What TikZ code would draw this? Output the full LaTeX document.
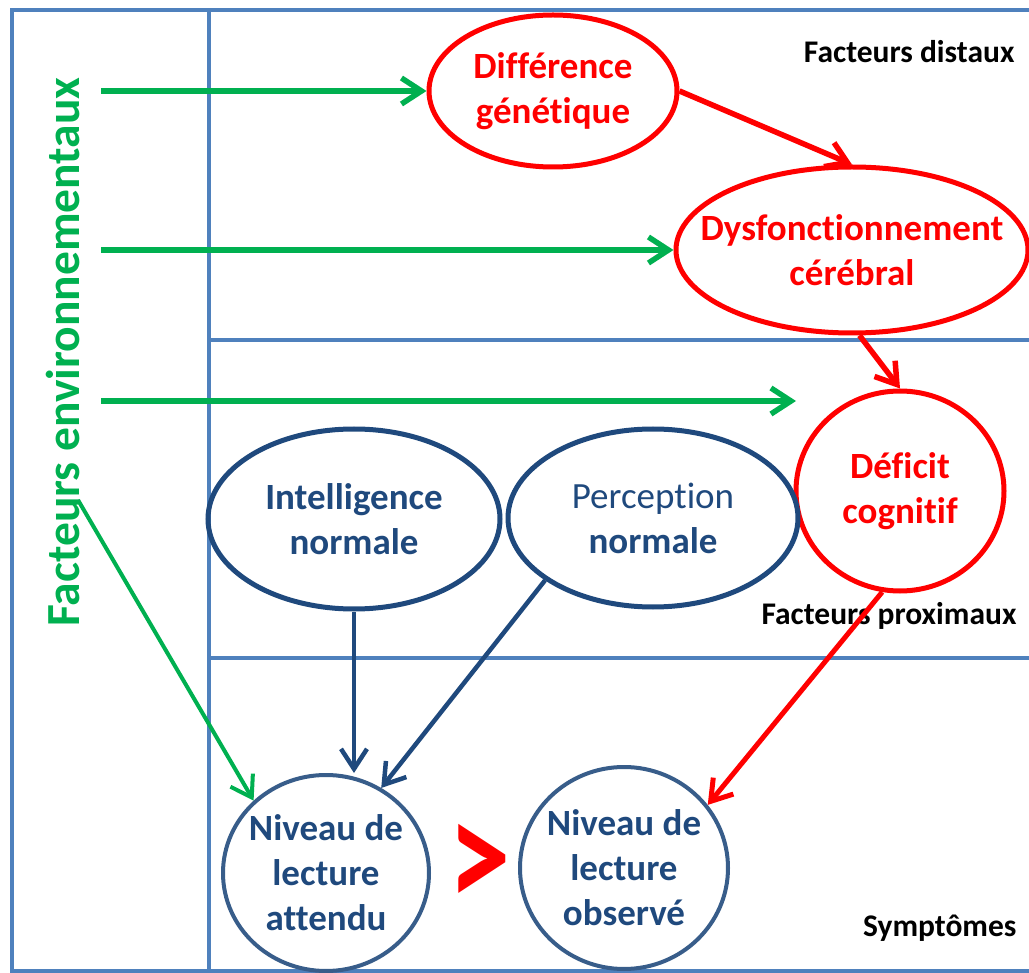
\documentclass[tikz,border=0pt]{standalone}
\usepackage{fontspec}
\setmainfont{Carlito}[Ligatures=NoCommon]
\usepackage{tikz}
\usetikzlibrary{shapes.geometric}
\usetikzlibrary{arrows.meta}

\definecolor{frameblue}{HTML}{4F81BD}
\definecolor{darkblue}{HTML}{1F497D}
\definecolor{midblue}{HTML}{385D8A}
\definecolor{envgreen}{HTML}{00B050}

\tikzset{
  frame/.style={draw=frameblue,line width=4pt},
  redell/.style={ellipse,draw=red,line width=5pt,inner sep=0pt},
  blueell/.style={ellipse,draw=darkblue,line width=5pt,inner sep=0pt},
  lectell/.style={ellipse,draw=midblue,line width=4pt,inner sep=0pt},
  redtxt/.style={text=red,font=\bfseries\fontsize{37}{45}\selectfont,align=center},
  bluetxt/.style={text=darkblue,font=\bfseries\fontsize{37}{45}\selectfont,align=center},
  zonetxt/.style={font=\bfseries\fontsize{31.5}{36}\selectfont,anchor=east},
  barb/.style={-{Straight Barb[length=20pt,width=26pt]}}
}

\begin{document}
\begin{tikzpicture}[x=1pt, y=-1pt]
        \useasboundingbox (0,0) rectangle (1029,973);

        % Frame
        \draw[frame] (12,10) rectangle (1060,971);
        \draw[frame] (209,10) -- (209,971);
        \draw[frame] (209,340) -- (1060,340);
        \draw[frame] (209,658) -- (1060,658);

        % Zones
        \draw (1018,52)  node(distal) [zonetxt] {Facteurs distaux};
        \draw (1020,616) node(proximal) [zonetxt] {Facteurs proximaux};
        \draw (1020,928) node(sympt) [zonetxt] {Symptômes};
        \draw (63,352) node(envtxt) [rotate=90,text=envgreen,font=\bfseries\fontsize{47.5}{50}\selectfont] {Facteurs environnementaux};

        % Nodes
        \draw (553,91)  node(diff) [redell,minimum width=248pt,minimum height=152pt,label={[redtxt]center:{Différence\\génétique}}] {};
        \draw (852,250) node(dysf) [redell,minimum width=352pt,minimum height=166pt,label={[redtxt]center:{Dysfonctionnement\\cérébral}}] {};
        \draw (900,491) node(deficit) [redell,minimum width=208pt,minimum height=200pt,label={[redtxt]center:{Déficit\\cognitif}}] {};
        \draw (354,519) node(intel) [blueell,minimum width=292pt,minimum height=180pt,label={[bluetxt]center:{Intelligence\\normale}}] {};
        \draw (653,518) node(perc) [blueell,minimum width=290pt,minimum height=178pt,label={[bluetxt]center:{{\mdseries Perception}\\normale}}] {};
        \draw (326,873) node(attendu) [lectell,minimum width=206pt,minimum height=196pt,label={[bluetxt]center:{Niveau de\\lecture\\attendu}}] {};
        \draw (624,868) node(observe) [lectell,minimum width=208pt,minimum height=202pt,label={[bluetxt]center:{Niveau de\\lecture\\observé}}] {};
        \draw (480,866) node(gt) [text=red,yscale=1.25,font=\bfseries\fontsize{125}{125}\selectfont] {>};

        % Edges
        \coordinate (env1) at (101,91);
        \coordinate (env2) at (101,250);
        \coordinate (env3) at (101,401);
        \coordinate (env4) at (78,500);
        \coordinate (env3end) at (796,401);
        \draw[envgreen, line width=5.5pt, barb] (env1) -- (diff.west);
        \draw[envgreen, line width=5.5pt, barb] (env2) -- (dysf.west);
        \draw[envgreen, line width=5.5pt, barb] (env3) -- (env3end);
        \draw[envgreen, line width=4pt, barb] (env4) -- (attendu.135);
        \draw[red, line width=5.5pt, barb] (diff.east) -- (dysf.north);
        \draw[red, line width=5.5pt, barb] (dysf.-85) -- (deficit.north);
        \draw[red, line width=5pt, barb] (deficit.-100) -- (observe.37);
        \draw[darkblue, line width=4.5pt, barb] (intel.south) -- (intel.south |- attendu.north);
        \draw[darkblue, line width=4.5pt, barb] (perc.210) -- (attendu.57);

      \end{tikzpicture}
\end{document}
